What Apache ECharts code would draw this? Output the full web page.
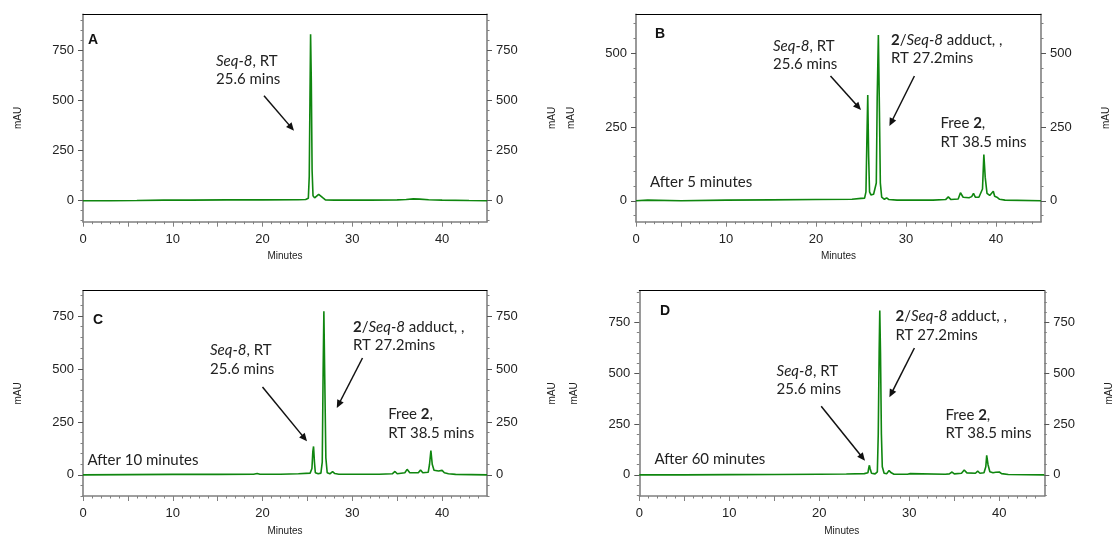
<!DOCTYPE html>
<html><head><meta charset="utf-8">
<script src="https://cdn.jsdelivr.net/npm/echarts@6/dist/echarts.min.js"></script>
<style>html,body{margin:0;padding:0;background:#fff}#c{width:1118px;height:537px}</style>
</head><body><div id="c"></div>
<script>
// ---------------- data ----------------
const xTickLabels = [0, 10, 20, 30, 40];
const xMidTicks = [5, 15, 25, 35];
const yTickLabels = [0, 250, 500, 750];
const panelLetters = ['A', 'B', 'C', 'D'];
const stageLabels = ['', 'After 5 minutes', 'After 10 minutes', 'After 60 minutes'];

// [minutes, mAU]
const traceA = [[0,0],[1.0,0],[1.2,5],[1.4,0],[3,0],[6,1],[9,3],[12,3],[16,4],[20,4],[24,5],[24.8,6],[25.1,12],[25.2,120],[25.28,500],[25.35,832],[25.43,600],[25.52,150],[25.62,25],[25.8,14],[26.0,22],[26.25,32],[26.45,30],[26.7,15],[27.0,4],[28,3],[32,3],[35,4],[36,6],[36.8,9],[37.5,8],[38.5,5],[40,3],[43,1],[45,0]];
const traceB = [[0,0],[1.3,2],[1.5,0],[5,0],[10,2],[15,3],[20,4],[24,5],[25,8],[25.4,9],[25.55,30],[25.65,200],[25.75,358],[25.85,150],[25.95,30],[26.1,20],[26.4,22],[26.6,28],[26.7,60],[26.8,350],[26.93,562],[27.05,300],[27.15,60],[27.3,12],[27.6,5],[27.85,10],[28.1,4],[29,2],[33,2],[34.4,4],[34.7,13],[35.0,4],[35.8,6],[36.05,27],[36.35,12],[37.0,10],[37.3,14],[37.5,25],[37.7,12],[37.9,10],[38.1,12],[38.3,10],[38.5,40],[38.65,157],[38.8,80],[39.0,25],[39.3,18],[39.5,20],[39.7,32],[39.85,15],[40.1,12],[40.4,5],[41,2],[45,0]];
const traceC = [[0,0],[5,1],[10,2],[15,2],[19.0,3],[19.4,6],[19.7,3],[22,3],[24,5],[25.3,8],[25.5,30],[25.6,110],[25.68,134],[25.78,60],[25.88,10],[26.2,5],[26.5,8],[26.65,60],[26.75,500],[26.83,773],[26.93,450],[27.05,80],[27.2,10],[27.5,5],[27.8,15],[28.05,6],[28.5,3],[33,3],[34.45,5],[34.75,16],[35.0,5],[35.85,10],[36.1,26],[36.4,10],[37.35,10],[37.6,23],[37.85,10],[38.45,12],[38.6,50],[38.75,115],[38.9,50],[39.1,22],[39.6,18],[40.0,21],[40.25,10],[40.7,5],[41.5,2],[45,0]];
const traceD = [[0,0],[5,0],[10,1],[15,2],[20,3],[23,4],[25.0,6],[25.4,10],[25.5,35],[25.57,47],[25.65,30],[25.8,8],[26.2,5],[26.45,15],[26.55,200],[26.65,600],[26.72,809],[26.8,600],[26.9,200],[27.0,40],[27.2,8],[27.5,6],[27.75,21],[28.0,10],[28.3,3],[29.8,3],[30.1,6],[30.3,2],[34,3],[34.45,5],[34.75,14],[35.0,5],[35.8,8],[36.1,24],[36.4,10],[37.35,8],[37.6,18],[37.85,8],[38.3,10],[38.5,40],[38.6,96],[38.75,50],[38.95,15],[39.3,10],[39.6,13],[39.8,9],[40.0,14],[40.25,6],[41,2],[45,0]];
const traces = [traceA, traceB, traceC, traceD];
const yRanges = [[-105, 932], [-71, 632], [-100, 870], [-104, 906]];

// ---------------- layout / style ----------------
const grids = [
  {left: 83, top: 14.3, width: 404, height: 207.4},
  {left: 636, top: 14.3, width: 405, height: 207.4},
  {left: 83, top: 290.7, width: 404, height: 207.3},
  {left: 639.3, top: 290.7, width: 405, height: 207.3}
];
const letterPos = [[88, 40.3], [655, 34.5], [93, 320.3], [660, 310.7]];
const stagePos = [null, [650, 182.3], [87.5, 459.7], [654.4, 458.7]];
const annotations = [
  [ {x: 216, y: 61, t: '{i|Seq-8}, RT'}, {x: 216, y: 79.3, t: '25.6 mins'} ],
  [ {x: 773, y: 45.7, t: '{i|Seq-8}, RT'}, {x: 773, y: 64, t: '25.6 mins'},
    {x: 891, y: 40, t: '{b|2}/{i|Seq-8} adduct, ,'}, {x: 891, y: 58.3, t: 'RT 27.2mins'},
    {x: 940.5, y: 123.3, t: 'Free {b|2},'}, {x: 940.5, y: 142.3, t: 'RT 38.5 mins'} ],
  [ {x: 210, y: 350.3, t: '{i|Seq-8}, RT'}, {x: 210, y: 369, t: '25.6 mins'},
    {x: 353, y: 327.3, t: '{b|2}/{i|Seq-8} adduct, ,'}, {x: 353, y: 345.3, t: 'RT 27.2mins'},
    {x: 388.2, y: 413.7, t: 'Free {b|2},'}, {x: 388.2, y: 432.7, t: 'RT 38.5 mins'} ],
  [ {x: 776.6, y: 370.7, t: '{i|Seq-8}, RT'}, {x: 776.6, y: 388.7, t: '25.6 mins'},
    {x: 895.5, y: 316.3, t: '{b|2}/{i|Seq-8} adduct, ,'}, {x: 895.5, y: 335.3, t: 'RT 27.2mins'},
    {x: 945.5, y: 414.7, t: 'Free {b|2},'}, {x: 945.5, y: 433, t: 'RT 38.5 mins'} ]
];
const arrows = [
  [[264, 95.7, 294, 130.7]],
  [[830.5, 76, 861, 110], [914.4, 76, 889.4, 126]],
  [[262.5, 387, 307, 441.3], [362.5, 358, 336.8, 408]],
  [[821.2, 406.3, 865, 460.7], [914.4, 348, 889.4, 397.3]]
];

const AX = '#808080', TXT = '#222';
const tickFont = {fontSize: 13, color: TXT, fontFamily: 'Liberation Sans, Arial, sans-serif'};
const smallFont = {fontSize: 10, color: TXT, fontFamily: 'Liberation Sans, Arial, sans-serif'};
const annFont = 'Lato, "Open Sans", sans-serif';

const xAxis = [], yAxis = [], series = [], graphic = [];
grids.forEach((g, gi) => {
  const [ymin, ymax] = yRanges[gi];
  const yMajor = yTickLabels.filter(v => v >= ymin && v <= ymax);
  const yMinor = [];
  for (let v = Math.ceil(ymin / 50) * 50; v <= ymax; v += 50) if (v % 250 !== 0) yMinor.push(v);
  const xMinor = [];
  for (let v = 1; v < 45; v++) if (v % 5 !== 0) xMinor.push(v);
  const base = {gridIndex: gi, type: 'value', min: 0, max: 45, splitLine: {show: false}};
  const xi = xAxis.length;
  xAxis.push(Object.assign({}, base, {position: 'bottom',
    axisLine: {show: true, onZero: false, lineStyle: {color: AX, width: 1.6}},
    axisTick: {show: true, customValues: xTickLabels.concat(xMidTicks), length: 5, lineStyle: {color: AX}},
    axisLabel: Object.assign({customValues: xTickLabels, margin: 11}, tickFont),
    name: 'Minutes', nameLocation: 'middle', nameGap: 30, nameTextStyle: smallFont}));
  xAxis.push(Object.assign({}, base, {position: 'bottom',
    axisLine: {show: false, onZero: false},
    axisTick: {show: true, customValues: xMinor, length: 2.5, lineStyle: {color: AX}},
    axisLabel: {show: false}}));
  xAxis.push(Object.assign({}, base, {position: 'top',
    axisLine: {show: true, onZero: false, lineStyle: {color: '#000', width: 1}},
    axisTick: {show: false}, axisLabel: {show: false}}));
  const ybase = {gridIndex: gi, type: 'value', min: ymin, max: ymax, splitLine: {show: false}};
  const yi = yAxis.length;
  ['left', 'right'].forEach(pos => {
    yAxis.push(Object.assign({}, ybase, {position: pos,
      axisLine: {show: true, onZero: false, lineStyle: {color: AX, width: 1.6}},
      axisTick: {show: true, customValues: yMajor, length: 5, lineStyle: {color: '#555'}},
      axisLabel: Object.assign({customValues: yMajor, margin: 9}, tickFont),
      name: 'mAU', nameLocation: 'middle', nameRotate: 90, nameGap: 60, nameTextStyle: smallFont}));
    yAxis.push(Object.assign({}, ybase, {position: pos,
      axisLine: {show: false, onZero: false},
      axisTick: {show: true, customValues: yMinor, length: 2.5, lineStyle: {color: AX}},
      axisLabel: {show: false}}));
  });
  series.push({type: 'line', xAxisIndex: xi, yAxisIndex: yi, data: traces[gi],
    showSymbol: false, symbol: 'none', lineStyle: {color: '#0f860f', width: 1.6}, silent: true});

  graphic.push({type: 'text', x: letterPos[gi][0], y: letterPos[gi][1], z: 10,
    style: {text: panelLetters[gi], font: 'bold 14px "Liberation Sans", Arial, sans-serif', fill: '#111', verticalAlign: 'middle', align: 'left'}});
  if (stagePos[gi]) {
    graphic.push({type: 'text', x: stagePos[gi][0], y: stagePos[gi][1], z: 10,
      style: {text: stageLabels[gi], font: '15px ' + annFont, fill: TXT, verticalAlign: 'middle', align: 'left'}});
  }
  annotations[gi].forEach(a => {
    graphic.push({type: 'text', x: a.x, y: a.y, z: 10,
      style: {text: a.t, font: '15px ' + annFont, fill: TXT, verticalAlign: 'middle', align: 'left',
        rich: {
          i: {fontStyle: 'italic', fontSize: 15, fontFamily: annFont, fill: TXT},
          b: {fontWeight: 'bold', fontSize: 15, fontFamily: annFont, fill: TXT}
        }}});
  });
  arrows[gi].forEach(([x1, y1, x2, y2]) => {
    const dx = x2 - x1, dy = y2 - y1, L = Math.hypot(dx, dy);
    const ux = dx / L, uy = dy / L, hl = 8, hw = 3.6;
    const bx = x2 - ux * hl, by = y2 - uy * hl;
    graphic.push({type: 'line', z: 10, shape: {x1: x1, y1: y1, x2: bx + ux, y2: by + uy},
      style: {stroke: '#111', lineWidth: 1.5}});
    graphic.push({type: 'polygon', z: 10,
      shape: {points: [[x2, y2], [bx - uy * hw, by + ux * hw], [bx + uy * hw, by - ux * hw]]},
      style: {fill: '#111'}});
  });
});

const chart = echarts.init(document.getElementById('c'), null, {renderer: 'canvas'});
chart.setOption({
  animation: false,
  backgroundColor: '#fff',
  grid: grids.map(g => Object.assign({containLabel: false}, g)),
  xAxis: xAxis, yAxis: yAxis, series: series, graphic: graphic
});
</script></body></html>
